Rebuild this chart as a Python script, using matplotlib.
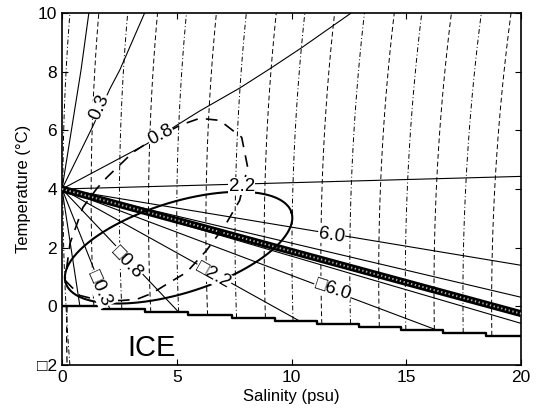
import numpy as np
import matplotlib
matplotlib.use("Agg")
import matplotlib.pyplot as plt

plt.rcParams['font.family'] = ['Liberation Sans', 'DejaVu Sans']

# isopycnals: vertex salinity (psu) of each contour, drawn as S = S0 + k*(T - Tmd)^2
iso_s0 = [0.04, 1.27, 2.50, 3.77, 5.00, 6.27, 7.54, 8.81, 10.02, 11.28,
          12.54, 13.80, 14.96, 16.21, 17.47, 18.72]
iso_curv = 0.0085
tmd_s = [0.0, 20.0]        # temperature of maximum density
tmd_t = [4.0, -0.25]

# freezing line (stepped)
frz_s = [0.0, 1.74, 3.61, 5.48, 7.39, 9.26, 11.13, 12.96, 14.78, 16.61, 18.48, 20.0]
frz_t = [0.0, -0.1, -0.2, -0.3, -0.4, -0.5, -0.6, -0.7, -0.8, -0.9, -1.0, -1.0]

# rays from (0, 4): above and below the TMD line
ray_s = [
    [0, 0.83, 1.17],
    [0, 1.35, 2.09, 2.52, 3.60],
    [0, 3.70, 6.00, 7.74, 9.04, 10.43, 12.60],
    [0, 20.0],
    [0, 20.0],
    [0, 20.0],
    [0, 20.0],
    [0, 16.30],
    [0, 10.35],
    [0, 5.04],
    [0, 2.09],
    [0, 0.78],
]
ray_t = [
    [4, 8.06, 10.0],
    [4, 6.15, 7.42, 8.06, 10.0],
    [4, 5.54, 6.66, 7.44, 8.09, 8.81, 10.0],
    [4, 4.43],
    [4, 1.40],
    [4, 0.31],
    [4, -0.58],
    [4, -0.80],
    [4, -0.50],
    [4, -0.16],
    [4, -0.10],
    [4, 0.0],
]

# contour labels: text, position, rotation
lab_text = ['0.3', '0.8', '2.2', '6.0', '\u25a10.3', '\u25a10.8', '\u25a12.2', '\u25a16.0']
lab_s = [1.65, 4.30, 7.83, 11.74, 1.65, 2.83, 6.60, 11.80]
lab_t = [6.79, 5.83, 4.09, 2.42, 0.61, 1.50, 1.06, 0.58]
lab_rot = [66, 28, 0, -9, -66, -46, -29, -18]

# dashed closed loop
loop_s = [0.13, 0.78, 1.65, 2.61, 3.26, 3.91, 4.70, 5.43, 6.30, 7.10, 7.74, 8.09,
          7.83, 6.87, 6.00, 5.13, 3.70, 3.09, 1.96, 1.52, 0.91, 0.35, 0.13]
loop_t = [0.89, 0.37, 0.20, 0.20, 0.24, 0.44, 0.82, 1.16, 1.91, 2.75, 3.61, 4.74,
          5.76, 6.34, 6.41, 6.17, 5.56, 5.25, 4.40, 4.02, 3.37, 2.15, 0.89]

# solid ellipse: centre and the two half-axis vectors (psu, degC)
ell_c = (5.08, 2.00)
ell_u = (4.92, 1.20)
ell_v = (-0.59, 1.48)

fig = plt.figure(figsize=(5.38, 4.11), dpi=100)
ax = fig.add_axes([62/538, 46/411, 459/538, 352/411])

# isopycnals
tt = np.linspace(-2, 10, 121)
for i, s0 in enumerate(iso_s0):
    tm = np.interp(s0, tmd_s, tmd_t)
    ss = s0 + iso_curv * (tt - tm) ** 2
    tf = np.interp(ss, frz_s, frz_t)
    keep = tt >= tf if i > 0 else np.ones_like(tt, dtype=bool)
    ls = (0, (5, 3)) if i % 2 else (0, (5, 2.5, 1, 2.5))
    ax.plot(ss[keep], tt[keep], color='black', lw=0.7, linestyle=ls, zorder=1)
ax.plot([0.22, 0.2, 0.22], [0.0, -1.0, -2.0], color='black', lw=0.9, linestyle=(0, (5, 3)), zorder=1)

# rays
for s, t in zip(ray_s, ray_t):
    ax.plot(s, t, color='black', lw=0.8, zorder=2)

# TMD line (chain of small circles)
ax.plot(tmd_s, tmd_t, color='black', lw=5, solid_capstyle='butt', zorder=3)
ax.plot(tmd_s, tmd_t, color='#b0b0b0', lw=1.4, linestyle=(0, (0.7, 1.3)), zorder=3)

# freezing line
ax.step(frz_s, frz_t, where='post', color='black', lw=1.7, zorder=3)

# dashed loop and ellipse
ax.plot(loop_s, loop_t, color='black', lw=1.2, linestyle=(0, (7, 5)), zorder=3)
th = np.linspace(0, 2 * np.pi, 200)
ax.plot(ell_c[0] + ell_u[0] * np.cos(th) + ell_v[0] * np.sin(th),
        ell_c[1] + ell_u[1] * np.cos(th) + ell_v[1] * np.sin(th),
        color='black', lw=1.5, zorder=3)

for txt, s, t, r in zip(lab_text, lab_s, lab_t, lab_rot):
    ax.text(s, t, txt, rotation=r, ha='center', va='center', fontsize=13.5,
            rotation_mode='anchor', zorder=4,
            bbox=dict(boxstyle='square,pad=0.03', facecolor='white', edgecolor='none'))

ax.text(3.9, -1.43, 'ICE', fontsize=21, ha='center', va='center')

ax.set_xlim(0, 20)
ax.set_ylim(-2, 10)
ax.set_xticks([0, 5, 10, 15, 20])
ax.set_yticks([-2, 0, 2, 4, 6, 8, 10])
ax.set_yticklabels(['\u25a12', '0', '2', '4', '6', '8', '10'])
ax.tick_params(direction='in', length=4, width=0.8, top=True, right=True, labelsize=12.5)
for sp in ax.spines.values():
    sp.set_linewidth(1.2)
ax.set_xlabel('Salinity (psu)', fontsize=12, labelpad=3)
ax.set_ylabel('Temperature (\u00b0C)', fontsize=12, labelpad=4)

plt.savefig('out.png', dpi=100)
